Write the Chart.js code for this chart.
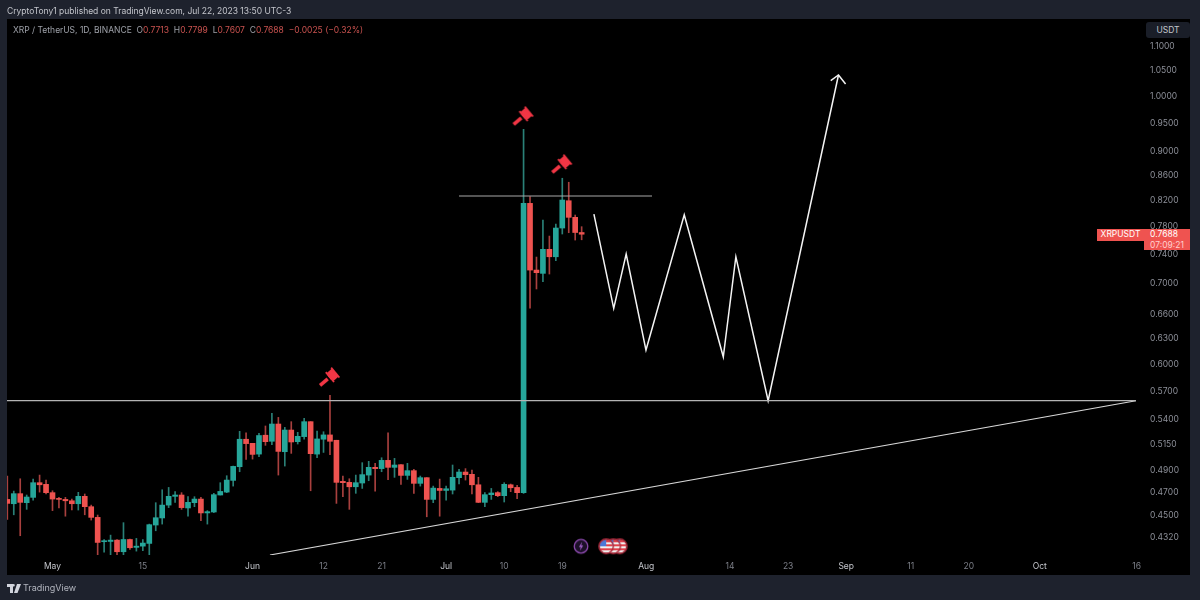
<!DOCTYPE html>
<html><head><meta charset="utf-8">
<style>
html,body{margin:0;padding:0;background:#1e222d;width:1200px;height:600px;overflow:hidden;font-family:Inter,"Noto Sans",sans-serif}
#panel{position:absolute;left:7px;top:19px;width:1183px;height:556px;background:#000}
canvas#c{position:absolute;left:0;top:0}
.t{position:absolute;white-space:pre;line-height:12px}
#pub{left:7px;top:5px;font-size:8.5px;color:#c4c6cc}
#hdr{left:13px;top:24px;font-size:8.5px;color:#9da0a8}
#hdr b{font-weight:400;color:#c9524f}
#usdt{left:1146px;top:22px;width:44px;height:16px;background:#1a1e28;border-radius:3px;color:#c4c6cc;font-size:8.5px;text-align:center;line-height:16px}
#sym{left:1097px;top:229px;width:47px;height:11.5px;line-height:11.5px;background:#ef5350;color:#fff;font-size:8.5px;text-align:center}
#val{left:1144px;top:229px;width:46px;height:21px;background:#ef5350;color:#fff;font-size:8.5px;padding-left:6px;box-sizing:border-box;line-height:10.5px}
#val span{color:#ffd0ce}
#foot{left:23px;top:582px;font-size:9px;color:#b2b5be}
#logo{position:absolute;left:7px;top:584px}
</style></head>
<body>
<div id="panel"></div>
<canvas id="c" width="1200" height="600"></canvas>
<div class="t" id="pub">CryptoTony1 published on TradingView.com, Jul 22, 2023 13:50 UTC-3</div>
<div class="t" id="hdr">XRP / TetherUS, 1D, BINANCE  O<b>0.7713</b>  H<b>0.7799</b>  L<b>0.7607</b>  C<b>0.7688</b>  <b>−0.0025 (−0.32%)</b></div>
<div class="t" id="usdt">USDT</div>
<div class="t" id="sym">XRPUSDT</div>
<div class="t" id="val">0.7688
<span>07:09:21</span></div>
<svg id="logo" width="14" height="9" viewBox="0 0 14 9"><path fill="#d1d4dc" d="M0 0h6v9H3V3H0zM6.5 0a1.3 1.3 0 1 1 0 2.6 1.3 1.3 0 0 1 0-2.6zM10 0h4l-3.5 9H7z"/></svg>
<div class="t" id="foot">TradingView</div>
<script src="https://cdn.jsdelivr.net/npm/chart.js@4/dist/chart.umd.js"></script>
<script>
// days counted from May 1, 2023
const days=[-7,-6,-5,-4,-3,-2,-1,0,1,2,3,4,5,6,7,8,9,10,11,12,13,14,15,16,17,18,19,20,21,22,23,24,25,26,27,28,29,30,31,32,33,34,35,36,37,38,39,40,41,42,43,44,45,46,47,48,49,50,51,52,53,54,55,56,57,58,59,60,61,62,63,64,65,66,67,68,69,70,71,72,73,74,75,76,77,78,79,80,81,82];
const opens=[.4641,.4603,.4692,.4612,.4659,.4791,.4776,.4701,.4650,.4641,.4629,.4603,.4668,.4577,.4485,.4282,.4284,.4295,.4201,.4300,.4236,.4246,.4268,.4420,.4480,.4591,.4668,.4680,.4566,.4612,.4644,.4523,.4531,.4680,.4706,.4812,.4939,.5204,.5164,.5059,.5244,.5184,.5357,.5082,.5296,.5180,.5230,.5381,.5059,.5204,.5247,.5194,.4803,.4794,.4754,.4788,.4861,.4933,.4921,.4999,.4933,.4958,.4858,.4902,.4785,.4837,.4641,.4739,.4721,.4724,.4837,.4889,.4868,.4772,.4615,.4683,.4701,.4674,.4772,.4748,.4701,.8153,.7181,.7136,.7470,.7365,.7779,.8194,.7939,.7713];
const highs=[.4852,.4715,.4827,.4680,.4824,.4861,.4815,.4718,.4659,.4659,.4644,.4704,.4689,.4591,.4505,.4300,.4336,.4300,.4440,.4303,.4309,.4300,.4428,.4612,.4727,.4748,.4710,.4701,.4665,.4665,.4659,.4543,.4695,.4791,.4855,.4945,.5283,.5269,.5164,.5263,.5337,.5467,.5425,.5323,.5381,.5273,.5415,.5381,.5286,.5279,.5657,.5194,.4852,.4827,.4861,.4977,.4990,.4971,.5024,.5269,.5018,.4958,.4971,.4914,.4852,.4837,.4760,.4824,.4760,.4955,.4914,.4921,.4908,.4840,.4701,.4739,.4710,.4791,.4779,.4766,.9387,.8257,.7361,.7898,.7661,.7838,.8552,.8487,.7974,.7799];
const lows=[.4468,.4507,.4331,.4554,.4635,.4706,.4689,.4543,.4566,.4495,.4548,.4548,.4507,.4462,.4169,.4198,.4169,.4169,.4169,.4220,.4206,.4209,.4169,.4372,.4428,.4569,.4615,.4554,.4495,.4577,.4457,.4428,.4526,.4680,.4701,.4760,.4892,.5008,.5011,.5034,.5144,.5151,.4861,.4945,.5066,.5157,.5204,.4718,.5024,.5075,.5053,.4606,.4665,.4554,.4695,.4739,.4809,.4715,.4892,.4818,.4840,.4776,.4821,.4695,.4760,.4490,.4612,.4495,.4635,.4689,.4779,.4815,.4689,.4612,.4577,.4641,.4665,.4618,.4710,.4647,.4695,.6680,.6927,.7023,.7127,.7310,.7691,.7710,.7603,.7607];
const closes=[.4606,.4692,.4615,.4662,.4791,.4772,.4701,.4644,.4641,.4629,.4603,.4668,.4577,.4485,.4276,.4290,.4295,.4201,.4300,.4233,.4246,.4271,.4423,.4482,.4591,.4668,.4680,.4569,.4615,.4644,.4523,.4534,.4683,.4712,.4815,.4942,.5204,.5161,.5056,.5241,.5180,.5357,.5085,.5296,.5177,.5233,.5381,.5063,.5207,.5247,.5184,.4794,.4791,.4754,.4791,.4865,.4933,.4921,.4999,.4933,.4955,.4858,.4902,.4785,.4837,.4641,.4742,.4721,.4736,.4840,.4889,.4865,.4772,.4615,.4683,.4698,.4674,.4776,.4745,.4701,.8153,.7181,.7145,.7470,.7365,.7779,.8205,.7939,.7713,.7688];

const longLineDays=[-7.05,167.9];   const longLinePrices=[.5600,.5600];
const topLineDays=[63,92.9];   const topLinePrices=[.8268,.8268];
const trendDays=[33.7,167.9];   const trendPrices=[.4175,.5600];
const zigDays=[83.9,86.97,88.9,91.97,97.9,103.95,105.9,110.9,121.8];
const zigPrices=[.7989,.6677,.7403,.6167,.7978,.6088,.7365,.5600,1.0409];
const arrowDays=[120.6,121.8,122.9];
const arrowPrices=[1.0297,1.0409,1.0232];
const hammerDays=[73,79,43];
const hammerPrices=[.9627,.8787,.5858];
const boltDays=[81.9];   const boltPrices=[.4245];
const flagDays=[87.9,86.9,85.8];   const flagPrices=[.4245,.4245,.4245];

const yTicks=[1.1,1.05,1,.95,.9,.86,.82,.78,.74,.7,.66,.63,.6,.57,.54,.515,.49,.47,.45,.432];
const xTickDays=[0,14,31,42,51,61,70,79,92,105,114,123,133,142,153,168];
const xTickLabels=['May','15','Jun','12','21','Jul','10','19','Aug','14','23','Sep','11','20','Oct','16'];

const GREEN='#26a69a',RED='#ef5350',GREEN_W='#2a8077',RED_W='#a8403e';
const xy=(xs,ys)=>xs.map((x,i)=>({x,y:ys[i]}));
const up=i=>closes[i]>=opens[i];

function mk(size,fn){const c=document.createElement('canvas');c.width=c.height=size;fn(c.getContext('2d'),size/2);return c;}
const gavel=mk(32,(g,m)=>{g.translate(m,m);g.rotate(-40*Math.PI/180);g.fillStyle='#f23645';
  g.fillRect(-13,-1.8,10,3.6);g.fillRect(-1,-2.8,8,5.6);g.fillRect(0.5,-5.2,6,10.4);g.fillRect(-1,-6.4,1.8,12.8);g.fillRect(6,-6.4,1.8,12.8);});
const bolt=mk(18,(g,m)=>{g.beginPath();g.arc(m,m,6.8,0,7);g.fillStyle='#1c1028';g.fill();g.lineWidth=1.3;g.strokeStyle='#8e4bb0';g.stroke();
  g.beginPath();g.moveTo(10.2,4.5);g.lineTo(6.8,9.8);g.lineTo(8.8,9.8);g.lineTo(7.8,13.5);g.lineTo(11.2,8.2);g.lineTo(9.2,8.2);g.closePath();g.fillStyle='#a060c8';g.fill();});
const flag=mk(18,(g,m)=>{g.save();g.beginPath();g.arc(m,m,6.6,0,7);g.clip();g.fillStyle='#f0f0f0';g.fillRect(0,0,18,18);g.fillStyle='#e0404a';
  for(let y=3;y<16;y+=4)g.fillRect(0,y,18,2);g.fillStyle='#4a78d8';g.fillRect(2,2,7,7);g.restore();
  g.beginPath();g.arc(m,m,7.2,0,7);g.lineWidth=1.4;g.strokeStyle='#b02a3c';g.stroke();});

function lineDs(xs,ys,color,w){return{type:'line',data:xy(xs,ys),borderColor:color,borderWidth:w,pointRadius:0,tension:0,fill:false,order:2};}
function iconDs(xs,ys,img,ord){return{type:'scatter',data:xy(xs,ys),pointStyle:img,pointRadius:10,order:ord,clip:false};}

new Chart(document.getElementById('c'),{
  type:'bar',
  data:{datasets:[
    {data:days.map((d,i)=>({x:d,y:[lows[i],highs[i]]})),barThickness:1,grouped:false,
     backgroundColor:days.map((d,i)=>up(i)?GREEN_W:RED_W),borderWidth:0,order:6},
    {data:days.map((d,i)=>({x:d,y:[Math.min(opens[i],closes[i]),Math.max(opens[i],closes[i])]})),barThickness:5,grouped:false,
     backgroundColor:days.map((d,i)=>up(i)?GREEN:RED),borderWidth:0,order:5},
    lineDs(longLineDays,longLinePrices,'#b4b4b4',1.2),
    lineDs(topLineDays,topLinePrices,'#a8a8a8',1.2),
    lineDs(trendDays,trendPrices,'#d8d8d8',1.1),
    lineDs(zigDays,zigPrices,'#f4f4f4',1.5),
    lineDs(arrowDays,arrowPrices,'#f4f4f4',1.5),
    iconDs(hammerDays,hammerPrices,gavel,1),
    iconDs(flagDays,flagPrices,flag,1),
    iconDs(boltDays,boltPrices,bolt,1)
  ]},
  options:{
    responsive:false,animation:false,devicePixelRatio:1,
    layout:{autoPadding:false,padding:{left:7,top:19,right:10,bottom:25}},
    plugins:{legend:{display:false},tooltip:{enabled:false},title:{display:false}},
    scales:{
      x:{type:'linear',min:-7.05,max:169.3,offset:false,grid:{display:false,drawTicks:false},border:{display:false},
        afterBuildTicks:s=>{s.ticks=xTickDays.map(v=>({value:v}));},
        afterFit:s=>{s.height=20;s.paddingLeft=0;s.paddingRight=0;},
        ticks:{autoSkip:false,maxRotation:0,padding:6,
          callback:(v)=>xTickLabels[xTickDays.indexOf(v)],
          color:c=>/^[A-Z]/.test(xTickLabels[xTickDays.indexOf(c.tick.value)]||'')?'#c4c6cc':'#7c7f88',
          font:{family:'Inter',size:8.5}}},
      y:{type:'logarithmic',position:'right',min:.4175,max:1.158,grid:{display:false,drawTicks:false},border:{display:false},
        afterBuildTicks:s=>{s.ticks=yTicks.map(v=>({value:v}));},
        afterFit:s=>{s.width=45;s.paddingTop=0;s.paddingBottom=0;},
        ticks:{autoSkip:false,padding:5,callback:v=>Number(v).toFixed(4),color:'#8c8f98',font:{family:'Inter',size:8.5}}}
    }
  }
});
</script>
</body></html>
